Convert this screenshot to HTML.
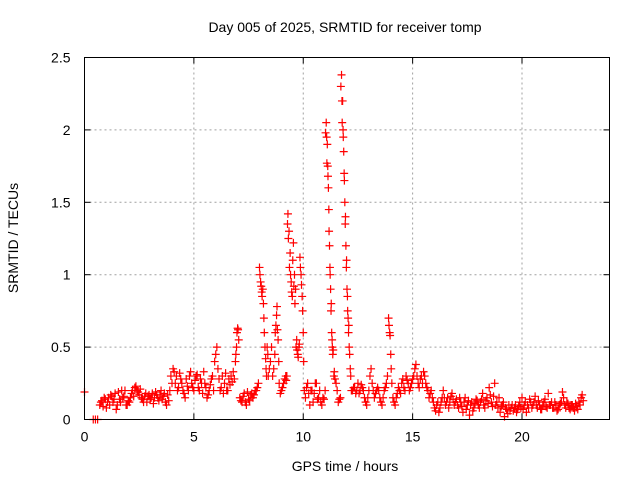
<!DOCTYPE html>
<html><head><meta charset="utf-8"><style>
html,body{margin:0;padding:0;background:#fff}
svg text{font-family:"Liberation Sans",sans-serif;font-size:14px;fill:#000}
</style></head><body>
<svg id="chart" width="640" height="480" xmlns="http://www.w3.org/2000/svg">
<rect width="640" height="480" fill="#fff"/>
<text x="345" y="32" text-anchor="middle">Day 005 of 2025, SRMTID for receiver tomp</text>
<text x="345" y="471" text-anchor="middle">GPS time / hours</text>
<text x="18" y="238" text-anchor="middle" transform="rotate(-90 18 238)">SRMTID / TECUs</text>
<g id="grid"></g>
<g id="axes"></g>
<g id="points"></g>
<rect x="84.5" y="57.5" width="525" height="362" fill="none" stroke="#000" stroke-width="1"/>
</svg>
<script>
const xTicks = [0, 5, 10, 15, 20];
const yTicks = [0, 0.5, 1, 1.5, 2, 2.5];
const yTickLabels = ["0", "0.5", "1", "1.5", "2", "2.5"];
// [GPS hour, SRMTID] samples
const mainSamples = [[0.0,0.19],[0.4,0.0],[0.5,0.0],[0.6,0.0],[0.7,0.1],[0.8,0.13],[0.9,0.15],[1.0,0.08],[1.1,0.15],[1.2,0.17],[1.3,0.12],[1.4,0.18],[1.5,0.1],[1.6,0.14],[1.7,0.2],[1.8,0.16],[1.9,0.1],[2.0,0.13],[2.1,0.15],[2.2,0.2],[2.3,0.22],[2.4,0.2],[2.5,0.17],[2.6,0.15],[2.7,0.12],[2.8,0.18],[2.9,0.16],[3.0,0.14],[3.1,0.18],[3.2,0.15],[3.3,0.17],[3.4,0.13],[3.5,0.2],[3.6,0.16],[3.7,0.12],[3.8,0.17],[3.9,0.2],[4.0,0.25],[4.1,0.33],[4.2,0.3],[4.3,0.22],[4.4,0.28],[4.5,0.2],[4.6,0.15],[4.7,0.23],[4.8,0.3],[4.9,0.25],[5.0,0.2],[5.1,0.3],[5.2,0.22],[5.3,0.28],[5.4,0.18],[5.5,0.25],[5.6,0.15],[5.7,0.2],[5.8,0.28],[5.9,0.2],[6.0,0.45],[6.05,0.5],[6.1,0.35],[6.2,0.2],[6.3,0.3],[6.4,0.25],[6.5,0.2],[6.6,0.28],[6.7,0.3],[6.8,0.33],[6.9,0.4],[6.95,0.5],[7.0,0.63],[7.05,0.55],[7.1,0.15],[7.2,0.12],[7.3,0.18],[7.4,0.1],[7.5,0.14],[7.6,0.17],[7.7,0.15],[7.8,0.2],[7.9,0.22],[8.0,1.05],[8.05,0.95],[8.1,0.88],[8.15,0.9],[8.2,0.7],[8.25,0.5],[8.3,0.35],[8.35,0.5],[8.4,0.3],[8.5,0.4],[8.6,0.3],[8.7,0.45],[8.75,0.65],[8.8,0.78],[8.85,0.55],[8.9,0.25],[9.0,0.2],[9.1,0.25],[9.2,0.3],[9.25,0.3],[9.3,1.42],[9.35,1.3],[9.4,1.15],[9.45,0.95],[9.5,0.85],[9.55,1.22],[9.6,1.0],[9.65,0.9],[9.7,0.55],[9.75,0.45],[9.8,0.5],[9.85,1.12],[9.9,1.0],[9.95,0.85],[10.0,0.6],[10.05,0.2],[10.1,0.15],[10.2,0.25],[10.3,0.1],[10.4,0.2],[10.5,0.18],[10.6,0.25],[10.7,0.15],[10.8,0.12],[10.9,0.15],[11.0,0.2],[11.05,2.05],[11.1,1.9],[11.15,1.6],[11.2,1.2],[11.25,0.9],[11.3,0.6],[11.35,0.45],[11.4,0.3],[11.5,0.25],[11.6,0.12],[11.7,0.15],[11.75,2.38],[11.8,2.2],[11.85,1.85],[11.9,1.5],[11.95,1.2],[12.0,0.9],[12.05,0.7],[12.1,0.5],[12.15,0.35],[12.2,0.2],[12.3,0.22],[12.4,0.18],[12.5,0.25],[12.6,0.2],[12.7,0.22],[12.8,0.15],[12.9,0.1],[13.0,0.2],[13.1,0.35],[13.2,0.2],[13.3,0.18],[13.4,0.22],[13.5,0.15],[13.6,0.1],[13.7,0.2],[13.8,0.25],[13.9,0.7],[13.95,0.6],[14.0,0.45],[14.05,0.25],[14.1,0.15],[14.2,0.1],[14.3,0.18],[14.4,0.2],[14.5,0.25],[14.6,0.22],[14.7,0.3],[14.8,0.25],[14.9,0.22],[15.0,0.28],[15.1,0.35],[15.2,0.3],[15.3,0.22],[15.4,0.3],[15.5,0.33],[15.6,0.25],[15.7,0.2],[15.8,0.18],[15.9,0.15],[16.0,0.08],[16.1,0.1],[16.2,0.05],[16.3,0.12],[16.4,0.2],[16.5,0.1],[16.6,0.15],[16.7,0.12],[16.8,0.18],[16.9,0.1],[17.0,0.14],[17.1,0.08],[17.2,0.12],[17.3,0.05],[17.4,0.15],[17.5,0.1],[17.6,0.03],[17.7,0.12],[17.8,0.08],[17.9,0.14],[18.0,0.1],[18.1,0.12],[18.2,0.18],[18.3,0.08],[18.4,0.15],[18.5,0.22],[18.6,0.12],[18.7,0.16],[18.8,0.1],[18.9,0.08],[19.0,0.05],[19.1,0.1],[19.2,0.02],[19.3,0.07],[19.4,0.1],[19.5,0.08],[19.6,0.06],[19.7,0.1],[19.8,0.07],[19.9,0.12],[20.0,0.15],[20.1,0.1],[20.2,0.05],[20.3,0.08],[20.4,0.12],[20.5,0.1],[20.6,0.16],[20.7,0.08],[20.8,0.1],[20.9,0.07],[21.0,0.12],[21.1,0.09],[21.2,0.18],[21.3,0.1],[21.4,0.08],[21.5,0.12],[21.6,0.06],[21.7,0.1],[21.8,0.12],[21.9,0.15],[22.0,0.08],[22.1,0.11],[22.2,0.07],[22.3,0.1],[22.4,0.06],[22.5,0.09],[22.6,0.12],[22.7,0.15],[22.8,0.13]];
const extraSamples = [[0.75,0.12],[0.85,0.09],[0.95,0.14],[1.05,0.12],[1.15,0.1],[1.25,0.16],[1.35,0.14],[1.45,0.07],[1.55,0.19],[1.65,0.12],[1.75,0.15],[1.85,0.2],[1.95,0.1],[2.05,0.12],[2.15,0.18],[2.25,0.16],[2.35,0.23],[2.45,0.19],[2.55,0.21],[2.65,0.14],[2.75,0.16],[2.85,0.12],[2.95,0.17],[3.05,0.15],[3.15,0.11],[3.25,0.19],[3.35,0.15],[3.45,0.17],[3.55,0.14],[3.65,0.18],[3.75,0.1],[3.85,0.13],[3.95,0.3],[4.05,0.35],[4.15,0.25],[4.25,0.2],[4.35,0.32],[4.45,0.25],[4.55,0.18],[4.65,0.28],[4.75,0.2],[4.85,0.33],[4.95,0.22],[5.05,0.27],[5.15,0.31],[5.25,0.2],[5.35,0.25],[5.45,0.33],[5.55,0.22],[5.65,0.17],[5.75,0.24],[5.85,0.3],[5.95,0.4],[6.15,0.28],[6.25,0.22],[6.35,0.18],[6.45,0.32],[6.55,0.2],[6.65,0.24],[6.75,0.26],[6.85,0.28],[6.92,0.45],[6.97,0.6],[7.02,0.62],[7.15,0.13],[7.25,0.16],[7.35,0.12],[7.45,0.19],[7.55,0.13],[7.65,0.18],[7.75,0.17],[7.85,0.2],[7.95,0.25],[8.02,1.0],[8.08,0.92],[8.12,0.85],[8.18,0.8],[8.22,0.6],[8.28,0.42],[8.32,0.3],[8.38,0.45],[8.45,0.35],[8.55,0.5],[8.65,0.35],[8.72,0.6],[8.78,0.72],[8.82,0.62],[8.88,0.4],[8.95,0.18],[9.05,0.22],[9.15,0.28],[9.22,0.27],[9.28,1.35],[9.32,1.25],[9.37,1.05],[9.42,1.0],[9.47,0.88],[9.52,1.1],[9.57,0.92],[9.62,0.8],[9.67,0.5],[9.72,0.48],[9.77,0.43],[9.82,0.52],[9.87,1.05],[9.92,0.93],[9.97,0.75],[10.02,0.4],[10.15,0.22],[10.25,0.18],[10.35,0.2],[10.45,0.12],[10.55,0.25],[10.65,0.14],[10.75,0.2],[10.85,0.1],[10.95,0.14],[11.02,1.98],[11.07,1.95],[11.08,1.77],[11.12,1.75],[11.13,1.68],[11.17,1.45],[11.18,1.3],[11.22,1.05],[11.23,1.0],[11.27,0.75],[11.28,0.8],[11.32,0.55],[11.33,0.5],[11.37,0.48],[11.42,0.33],[11.45,0.28],[11.55,0.2],[11.65,0.14],[11.72,2.3],[11.77,2.2],[11.78,2.05],[11.82,2.0],[11.83,1.95],[11.87,1.7],[11.88,1.65],[11.92,1.35],[11.93,1.4],[11.97,1.05],[11.98,1.1],[12.02,0.85],[12.03,0.75],[12.07,0.6],[12.08,0.65],[12.12,0.45],[12.17,0.3],[12.25,0.2],[12.35,0.22],[12.45,0.2],[12.55,0.18],[12.65,0.24],[12.75,0.2],[12.85,0.12],[12.95,0.15],[13.05,0.3],[13.15,0.25],[13.25,0.15],[13.35,0.2],[13.45,0.2],[13.55,0.12],[13.65,0.15],[13.75,0.22],[13.85,0.3],[13.92,0.65],[13.97,0.58],[14.02,0.35],[14.15,0.12],[14.25,0.15],[14.35,0.22],[14.45,0.18],[14.55,0.28],[14.65,0.2],[14.75,0.27],[14.85,0.2],[14.95,0.25],[15.05,0.3],[15.15,0.38],[15.25,0.25],[15.35,0.28],[15.45,0.25],[15.55,0.3],[15.65,0.22],[15.75,0.15],[15.85,0.2],[15.95,0.12],[16.05,0.06],[16.15,0.12],[16.25,0.08],[16.35,0.15],[16.45,0.15],[16.55,0.12],[16.65,0.08],[16.75,0.16],[16.85,0.14],[16.95,0.12],[17.05,0.1],[17.15,0.15],[17.25,0.09],[17.35,0.12],[17.45,0.07],[17.55,0.13],[17.65,0.1],[17.75,0.06],[17.85,0.11],[17.95,0.13],[18.05,0.08],[18.15,0.14],[18.25,0.1],[18.35,0.13],[18.45,0.11],[18.55,0.17],[18.65,0.09],[18.75,0.25],[18.85,0.12],[18.95,0.15],[19.05,0.09],[19.15,0.12],[19.25,0.08],[19.35,0.04],[19.45,0.06],[19.55,0.1],[19.65,0.08],[19.75,0.05],[19.85,0.09],[19.95,0.08],[20.05,0.07],[20.15,0.12],[20.25,0.1],[20.35,0.14],[20.45,0.08],[20.55,0.12],[20.65,0.1],[20.75,0.13],[20.85,0.07],[20.95,0.1],[21.05,0.14],[21.15,0.08],[21.25,0.1],[21.35,0.12],[21.45,0.08],[21.55,0.1],[21.65,0.07],[21.75,0.11],[21.85,0.19],[21.95,0.1],[22.05,0.12],[22.15,0.08],[22.25,0.1],[22.35,0.08],[22.45,0.11],[22.55,0.07],[22.65,0.1],[22.75,0.17]];
const NS = "http://www.w3.org/2000/svg";
const X0 = 84.5, X1 = 609.5, Y0 = 419.5, Y1 = 57.5;
function xs(h){ return X0 + (h / 24) * (X1 - X0); }
function ys(v){ return Y0 - (v / 2.5) * (Y0 - Y1); }
const grid = document.getElementById('grid');
const axes = document.getElementById('axes');
const pts = document.getElementById('points');
xTicks.forEach(function(t){
  const x = xs(t);
  if (t > 0) {
    const g = document.createElementNS(NS, 'line');
    g.setAttribute('x1', x); g.setAttribute('x2', x); g.setAttribute('y1', Y1); g.setAttribute('y2', Y0);
    g.setAttribute('stroke', '#a0a0a0'); g.setAttribute('stroke-dasharray', '2,3');
    
    
    grid.appendChild(g);
  }
  const tk = document.createElementNS(NS, 'line');
  tk.setAttribute('x1', x); tk.setAttribute('x2', x); tk.setAttribute('y1', Y0); tk.setAttribute('y2', Y0 - 6);
  tk.setAttribute('stroke', '#000');
  
  
  axes.appendChild(tk);
  const tk2 = document.createElementNS(NS, 'line');
  tk2.setAttribute('x1', x); tk2.setAttribute('x2', x); tk2.setAttribute('y1', Y1); tk2.setAttribute('y2', Y1 + 6);
  tk2.setAttribute('stroke', '#000');
  
  
  axes.appendChild(tk2);
  const lb = document.createElementNS(NS, 'text');
  lb.setAttribute('x', x); lb.setAttribute('y', Y0 + 22); lb.setAttribute('text-anchor', 'middle');
  lb.textContent = String(t);
  
  
  axes.appendChild(lb);
});
yTicks.forEach(function(t, i){
  const y = ys(t);
  if (t > 0 && t < 2.5) {
    const g = document.createElementNS(NS, 'line');
    g.setAttribute('x1', X0); g.setAttribute('x2', X1); g.setAttribute('y1', y); g.setAttribute('y2', y);
    g.setAttribute('stroke', '#a0a0a0'); g.setAttribute('stroke-dasharray', '2,3');
    
    
    grid.appendChild(g);
  }
  const tk = document.createElementNS(NS, 'line');
  tk.setAttribute('x1', X0); tk.setAttribute('x2', X0 + 6); tk.setAttribute('y1', y); tk.setAttribute('y2', y);
  tk.setAttribute('stroke', '#000');
  
  
  axes.appendChild(tk);
  const tk2 = document.createElementNS(NS, 'line');
  tk2.setAttribute('x1', X1); tk2.setAttribute('x2', X1 - 6); tk2.setAttribute('y1', y); tk2.setAttribute('y2', y);
  tk2.setAttribute('stroke', '#000');
  
  
  axes.appendChild(tk2);
  const lb = document.createElementNS(NS, 'text');
  lb.setAttribute('x', X0 - 14); lb.setAttribute('y', y + 5); lb.setAttribute('text-anchor', 'end');
  lb.textContent = yTickLabels[i];
  
  
  axes.appendChild(lb);
});
let d = '';
mainSamples.concat(extraSamples).forEach(function(s){
  const x = xs(s[0]), y = ys(s[1]);
  d += 'M' + (x - 4) + ' ' + y + 'h8M' + x + ' ' + (y - 4) + 'v8';
});
const p = document.createElementNS(NS, 'path');
p.setAttribute('d', d);
p.setAttribute('stroke', '#ff0000');
p.setAttribute('stroke-width', '1.2');
p.setAttribute('fill', 'none');


pts.appendChild(p);
</script>
</body></html>
